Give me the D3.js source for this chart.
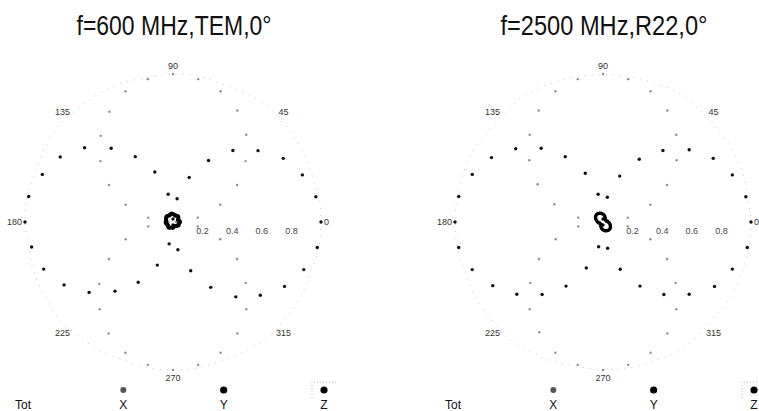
<!DOCTYPE html>
<html>
<head>
<meta charset="utf-8">
<script src="https://cdn.jsdelivr.net/npm/d3@7"></script>
<style>
  body { margin: 0; background: #fff; }
</style>
</head>
<body>
<svg id="chart" width="759" height="411"></svg>
<script>
// Data (phi in degrees, normalized response)
var angles = [0,10,20,30,40,50,60,70,80,90,100,110,120,130,140,150,160,170,
              180,190,200,210,220,230,240,250,260,270,280,290,300,310,320,330,340,350];

var titles = ["f=600 MHz,TEM,0\u00b0", "f=2500 MHz,R22,0\u00b0"];
var angleLabels = [0, 45, 90, 135, 180, 225, 270, 315];
var radialTicks = ["0.2", "0.4", "0.6", "0.8"];
var radialTickValues = [0.2, 0.4, 0.6, 0.8];
var legendNames = ["Tot", "X", "Y", "Z"];

var temTot = [1.00,1.00,0.99,1.00,1.00,1.01,1.00,0.99,1.00,1.00,0.99,1.00,1.00,1.00,1.01,1.00,0.99,1.00,
              1.00,0.99,1.00,1.00,1.01,1.00,1.00,0.99,1.00,1.00,1.00,0.99,1.00,1.01,1.00,1.00,0.99,1.00];
var temX = [0.02,0.17,0.34,0.50,0.64,0.77,0.87,0.94,0.98,1.00,0.98,0.94,0.86,0.76,0.64,0.50,0.34,0.17,
            0.03,0.17,0.34,0.50,0.65,0.77,0.87,0.94,0.98,1.00,0.98,0.94,0.87,0.77,0.64,0.50,0.34,0.17];
var temY = [1.00,0.98,0.93,0.86,0.75,0.63,0.48,0.32,0.16,0.02,0.19,0.36,0.51,0.65,0.78,0.88,0.94,0.99,
            1.00,0.97,0.93,0.85,0.74,0.61,0.47,0.31,0.15,0.02,0.19,0.35,0.51,0.66,0.77,0.87,0.94,0.99];
var temZ = [0.048,0.044,0.036,0.040,0.048,0.052,0.050,0.046,0.050,0.054,0.058,0.054,0.050,0.054,0.058,0.054,0.050,0.046,
            0.050,0.048,0.044,0.040,0.044,0.048,0.044,0.040,0.036,0.040,0.032,0.028,0.032,0.036,0.040,0.044,0.040,0.044];

var r22Tot = [1.00,0.99,1.00,1.00,0.99,1.00,1.01,1.00,1.00,0.99,1.00,1.00,1.01,1.00,0.99,1.00,1.00,1.00,
              1.00,1.00,0.99,1.00,1.00,1.01,1.00,1.00,0.99,1.00,1.00,1.00,1.01,1.00,0.99,1.00,1.00,1.00];
var r22X = [0.02,0.17,0.34,0.50,0.65,0.77,0.87,0.94,0.98,1.00,0.98,0.94,0.87,0.77,0.65,0.51,0.35,0.17,
            0.02,0.17,0.34,0.50,0.64,0.77,0.86,0.94,0.98,1.00,0.98,0.94,0.87,0.77,0.64,0.50,0.34,0.17];
var r22Y = [1.00,0.98,0.93,0.86,0.76,0.63,0.49,0.33,0.17,0.02,0.19,0.35,0.51,0.65,0.77,0.87,0.94,0.99,
            1.00,0.99,0.94,0.86,0.76,0.64,0.50,0.33,0.17,0.02,0.18,0.34,0.50,0.64,0.76,0.87,0.93,0.99];
var r22Z = [0.035,0.030,0.025,0.022,0.021,0.024,0.030,0.038,0.046,0.053,0.059,0.063,0.066,0.067,0.064,0.058,0.051,0.043,
            0.036,0.030,0.025,0.022,0.021,0.024,0.030,0.038,0.046,0.053,0.059,0.063,0.066,0.067,0.064,0.058,0.051,0.043];

var plots = [
  { cx: 173, cy: 222, titleW: 195, tot: temTot, x: temX, y: temY, z: temZ },
  { cx: 603, cy: 222, titleW: 207, tot: r22Tot, x: r22X, y: r22Y, z: r22Z }
];

var svg = d3.select("#chart");
var R = 148;

// radius and angle scales (angle: math degrees ccw from east -> d3 radians cw from north)
var rscale = d3.scaleLinear().domain([0, 1]).range([0, R]);
var ascale = d3.scaleLinear().domain([0, 360]).range([Math.PI / 2, Math.PI / 2 - 2 * Math.PI]);

function toPoints(vals) {
  return vals.map(function(v, i) { return { a: angles[i], r: v }; });
}

var radialLine = d3.lineRadial()
  .angle(function(d) { return ascale(d.a); })
  .radius(function(d) { return rscale(d.r); });

function drawPolar(p, idx) {
  var g = svg.append("g").attr("transform", `translate(${p.cx},${p.cy})`);

  // title (narrow face is missing, so squeeze the regular one)
  svg.append("text")
    .attr("x", p.cx + 1)
    .attr("y", 35)
    .attr("text-anchor", "middle")
    .attr("textLength", p.titleW)
    .attr("lengthAdjust", "spacingAndGlyphs")
    .style("font-family", "'Liberation Sans', Arial, sans-serif")
    .style("font-size", "28px")
    .style("fill", "#111")
    .text(titles[idx]);

  // Tot: faint dotted curve
  g.append("path")
    .datum(toPoints(p.tot))
    .attr("d", radialLine.curve(d3.curveCardinalClosed))
    .attr("fill", "none")
    .attr("stroke", "#c4c4c4")
    .attr("stroke-width", 1)
    .attr("stroke-dasharray", "1,6");

  // X: grey dots
  g.selectAll(".xdot")
    .data(toPoints(p.x))
    .enter()
    .append("circle")
    .attr("class", "xdot")
    .attr("cx", function(d) { return d3.pointRadial(ascale(d.a), rscale(d.r))[0]; })
    .attr("cy", function(d) { return d3.pointRadial(ascale(d.a), rscale(d.r))[1]; })
    .attr("r", 1.2)
    .attr("fill", "#8c8c8c");

  // Y: black dots
  g.selectAll(".ydot")
    .data(toPoints(p.y))
    .enter()
    .append("circle")
    .attr("class", "ydot")
    .attr("cx", function(d) { return d3.pointRadial(ascale(d.a), rscale(d.r))[0]; })
    .attr("cy", function(d) { return d3.pointRadial(ascale(d.a), rscale(d.r))[1]; })
    .attr("r", 1.7)
    .attr("fill", "#111");

  // Z: thick black curve near the centre
  g.append("path")
    .datum(toPoints(p.z))
    .attr("d", radialLine.curve(d3.curveCardinalClosed))
    .attr("fill", "none")
    .attr("stroke", "#000")
    .attr("stroke-width", idx == 0 ? 4 : 3.4);

  // angle labels
  g.selectAll(".alabel")
    .data(angleLabels)
    .enter()
    .append("text")
    .attr("class", "alabel")
    .attr("x", function(d) {
      var rr = (d == 0 || d == 180) ? 1.02 : 1.055;
      return d3.pointRadial(ascale(d), rscale(rr))[0];
    })
    .attr("y", function(d) {
      var rr = (d == 0 || d == 180) ? 1.02 : 1.055;
      return d3.pointRadial(ascale(d), rscale(rr))[1];
    })
    .attr("dy", "0.35em")
    .attr("text-anchor", function(d) { return d == 0 ? "start" : (d == 180 ? "end" : "middle"); })
    .style("font-family", "'Liberation Sans', Arial, sans-serif")
    .style("font-size", "9px")
    .style("fill", "#333")
    .text(function(d) { return d; });

  // radial tick labels below the 0 degree axis
  g.selectAll(".rlabel")
    .data(radialTickValues)
    .enter()
    .append("text")
    .attr("class", "rlabel")
    .attr("x", function(d) { return rscale(d); })
    .attr("y", 9)
    .attr("dy", "0.35em")
    .attr("text-anchor", "middle")
    .style("font-family", "'Liberation Sans', Arial, sans-serif")
    .style("font-size", "9px")
    .style("fill", "#444")
    .text(function(d, i) { return radialTicks[i]; });

  // legend
  var lx = d3.scalePoint().domain(legendNames).range([p.cx - 150, p.cx + 151]);
  svg.selectAll(".leg" + idx)
    .data(legendNames)
    .enter()
    .append("text")
    .attr("class", "leg" + idx)
    .attr("x", function(d) { return lx(d); })
    .attr("y", 409)
    .attr("text-anchor", "middle")
    .style("font-family", "'Liberation Sans', Arial, sans-serif")
    .style("font-size", "12px")
    .style("fill", "#111")
    .text(function(d) { return d; });

  svg.append("circle").attr("cx", lx("X")).attr("cy", 390).attr("r", 3).attr("fill", "#555");
  svg.append("circle").attr("cx", lx("Y")).attr("cy", 390).attr("r", 3.6).attr("fill", "#000");
  svg.append("circle").attr("cx", lx("Z")).attr("cy", 390).attr("r", 3.6).attr("fill", "#000");

  // dotted legend box corner round Z
  svg.append("path")
    .attr("d", `M${lx("Z") - 12},398 V382 H${lx("Z") + 12}`)
    .attr("fill", "none")
    .attr("stroke", "#bbb")
    .attr("stroke-width", 1)
    .attr("stroke-dasharray", "1,2");
}

plots.forEach(drawPolar);
</script>
</body>
</html>
